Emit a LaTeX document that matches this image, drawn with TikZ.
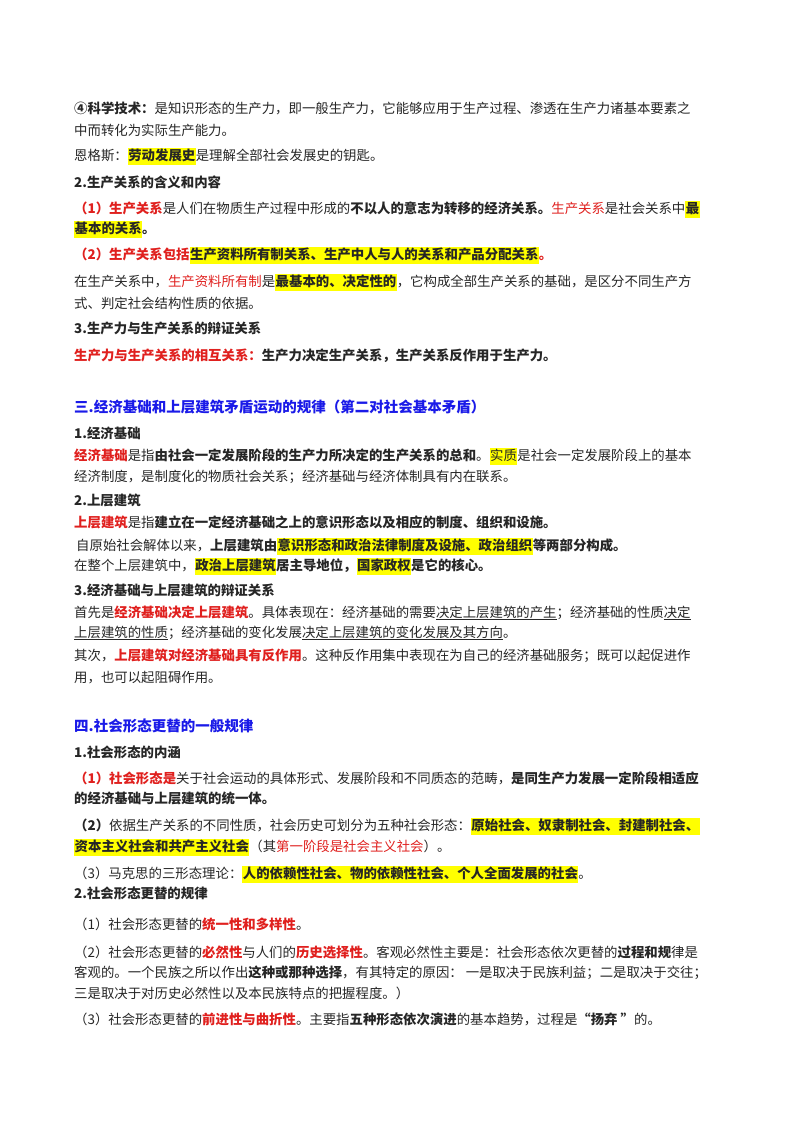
\documentclass[tikz,border=0pt]{standalone}
\usepackage{fontspec}
\setmainfont{Noto Sans CJK SC}
\newcommand{\rd}[1]{\textcolor{myred}{#1}}
\newcommand{\bd}[1]{\textbf{#1}}
\newcommand{\rb}[1]{\textcolor{myred}{\textbf{#1}}}
\newcommand{\hl}[1]{{\setlength{\fboxsep}{0.5pt}\colorbox{myyel}{\strut #1}}}
\definecolor{myred}{HTML}{E0201E}
\definecolor{myblue}{HTML}{1A1AE8}
\definecolor{myyel}{HTML}{FFFF00}
\definecolor{body}{HTML}{262626}
\begin{document}
\begin{tikzpicture}[x=1pt,y=-1pt,
  txt/.style={anchor=base west,inner sep=0pt,font=\fontsize{13.4}{15}\selectfont,text=body},
  hd/.style={txt,font=\fontsize{13.4}{15}\selectfont\bfseries},
  sec/.style={txt,font=\fontsize{14.5}{16}\selectfont\bfseries,text=myblue}]
\fill[white] (0,0) rectangle (800,1132);
\useasboundingbox (0,0) rectangle (800,1132);
\node[txt] (a1) at (74,113) {\bd{④科学技术：}是知识形态的生产力，即一般生产力，它能够应用于生产过程、渗透在生产力诸基本要素之};
\node[txt] (a2) at (74,135) {中而转化为实际生产能力。};
\node[txt] (a3) at (74,160) {恩格斯：\hl{\bd{劳动发展史}}是理解全部社会发展史的钥匙。};
\node[hd] (a4) at (74,187) {2.生产关系的含义和内容};
\node[txt] (a5) at (74,213) {\rb{（1）生产关系}是人们在物质生产过程中形成的\bd{不以人的意志为转移的经济关系。}\rd{生产关系}是社会关系中\hl{\bd{最}}};
\node[txt] (a6) at (74,233) {\hl{\bd{基本的关系}}\bd{。}};
\node[txt] (a7) at (74,259) {\rb{（2）生产关系包括}\hl{\bd{生产资料所有制关系、生产中人与人的关系和产品分配关系}}\rb{。}};
\node[txt] (a8) at (74,286) {在生产关系中，\rd{生产资料所有制}是\hl{\bd{最基本的、决定性的}}，它构成全部生产关系的基础，是区分不同生产方};
\node[txt] (a9) at (74,308) {式、判定社会结构性质的依据。};
\node[hd] (a10) at (74,333) {3.生产力与生产关系的辩证关系};
\node[txt] (a11) at (74,360) {\rb{生产力与生产关系的相互关系：}\bd{生产力决定生产关系，生产关系反作用于生产力。}};
\node[sec] (b1) at (74,412) {三.经济基础和上层建筑矛盾运动的规律（第二对社会基本矛盾）};
\node[hd] (b2) at (74,438) {1.经济基础};
\node[txt] (b3) at (74,460) {\rb{经济基础}是指\bd{由社会一定发展阶段的生产力所决定的生产关系的总和}。\hl{实质}是社会一定发展阶段上的基本};
\node[txt] (b4) at (74,481) {经济制度，是制度化的物质社会关系；经济基础与经济体制具有内在联系。};
\node[hd] (b5) at (74,505) {2.上层建筑};
\node[txt] (b6) at (74,527) {\rb{上层建筑}是指\bd{建立在一定经济基础之上的意识形态以及相应的制度、组织和设施。}};
\node[txt] (b7) at (76,550) {自原始社会解体以来，\bd{上层建筑由}\hl{\bd{意识形态和政治法律制度及设施、政治组织}}\bd{等两部分构成。}};
\node[txt] (b8) at (74,570) {在整个上层建筑中，\hl{\bd{政治上层建筑}}\bd{居主导地位，}\hl{\bd{国家政权}}\bd{是它的核心。}};
\node[hd] (b9) at (74,595) {3.经济基础与上层建筑的辩证关系};
\node[txt] (b10) at (74,617) {首先是\rb{经济基础决定上层建筑}。具体表现在：经济基础的需要\underline{决定上层建筑的产生}；经济基础的性质\underline{决定}};
\node[txt] (b11) at (74,637) {\underline{上层建筑的性质}；经济基础的变化发展\underline{决定上层建筑的变化发展及其方向}。};
\node[txt] (b12) at (74,660) {其次，\rb{上层建筑对经济基础具有反作用}。这种反作用集中表现在为自己的经济基础服务；既可以起促进作};
\node[txt] (b13) at (74,682) {用，也可以起阻碍作用。};
\node[sec] (c1) at (74,731) {四.社会形态更替的一般规律};
\node[hd] (c2) at (74,757) {1.社会形态的内涵};
\node[txt] (c3) at (74,783) {\rb{（1）社会形态是}关于社会运动的具体形式、发展阶段和不同质态的范畴，\bd{是同生产力发展一定阶段相适应}};
\node[txt] (c4) at (74,803) {\bd{的经济基础与上层建筑的统一体。}};
\node[txt] (c5) at (74,830) {\bd{（2）}依据生产关系的不同性质，社会历史可划分为五种社会形态：\hl{\bd{原始社会、奴隶制社会、封建制社会、}}};
\node[txt] (c6) at (74,851) {\hl{\bd{资本主义社会和共产主义社会}}（其\rd{第一阶段是社会主义社会}）。};
\node[txt] (c7) at (74,878) {（3）马克思的三形态理论：\hl{\bd{人的依赖性社会、物的依赖性社会、个人全面发展的社会}}。};
\node[hd] (c8) at (74,898) {2.社会形态更替的规律};
\node[txt] (c9) at (74,929) {（1）社会形态更替的\rb{统一性和多样性}。};
\node[txt] (c10) at (74,957) {（2）社会形态更替的\rb{必然性}与人们的\rb{历史选择性}。客观必然性主要是：社会形态依次更替的\bd{过程和规}律是};
\node[txt] (c11) at (74,977) {客观的。一个民族之所以作出\bd{这种或那种选择}，有其特定的原因：\ 一是取决于民族利益；二是取决于交往；};
\node[txt] (c12) at (74,998) {三是取决于对历史必然性以及本民族特点的把握程度。）};
\node[txt] (c13) at (74,1024) {（3）社会形态更替的\rb{前进性与曲折性}。主要指\bd{五种形态依次演进}的基本趋势，过程是\bd{“扬弃 ”}的。};
\end{tikzpicture}
\end{document}
